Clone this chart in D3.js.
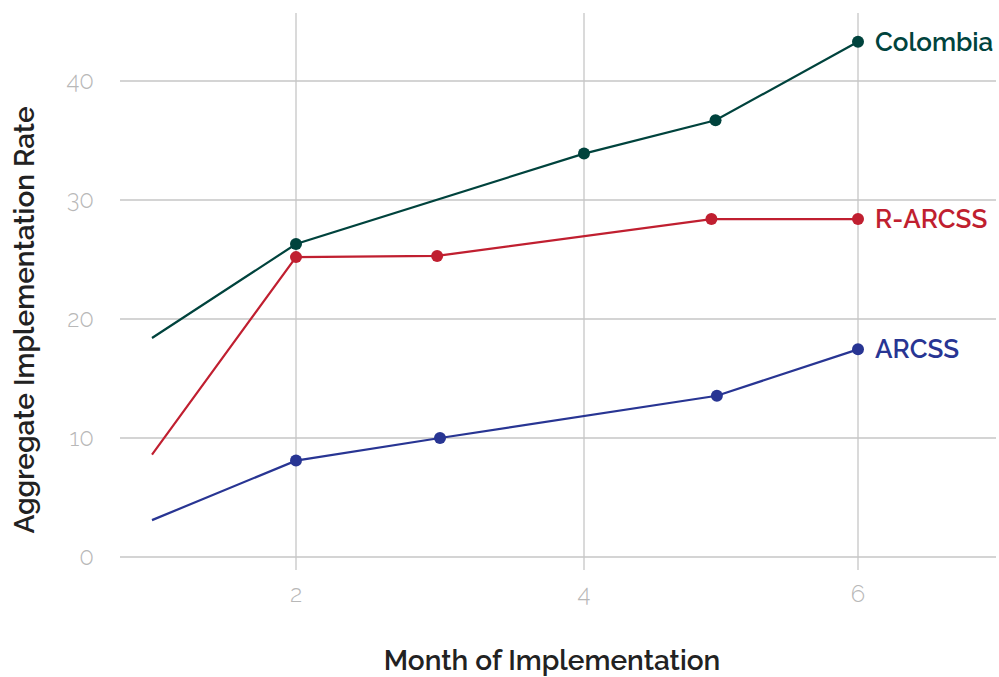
<!DOCTYPE html>
<html><head><meta charset="utf-8">
<script src="https://cdn.jsdelivr.net/npm/d3@7"></script>
<style>
html,body{margin:0;padding:0;background:#fff;}
svg{display:block;}
</style></head>
<body>
<svg id="chart" width="999" height="677"></svg>
<script>
// Data
const colombiaX = [1, 2, 4, 4.96, 6];
const colombiaY = [18.4, 26.3, 33.9, 36.7, 43.3];
const rarcssX = [1, 2, 2.98, 4.93, 6];
const rarcssY = [8.6, 25.2, 25.3, 28.4, 28.4];
const arcssX = [1, 2, 3, 4.97, 6];
const arcssY = [3.1, 8.1, 10.0, 13.55, 17.45];
const seriesNames = ["Colombia", "R-ARCSS", "ARCSS"];
const seriesColors = ["#00433d", "#c01f30", "#283593"];
const xTicks = [2, 4, 6];
const yTicks = [0, 10, 20, 30, 40];

const svg = d3.select("#chart");
const font = "Raleway, Lato, 'Open Sans', sans-serif";

const x = d3.scaleLinear().domain([2, 4, 6]).range([296, 584, 858]);
const y = d3.scaleLinear().domain([0, 40]).range([557, 81]);
const plotL = 120, plotR = 996, plotT = 13, plotB = 570;

// horizontal grid
svg.append("g").selectAll("line").data(yTicks).join("line")
  .attr("x1", plotL).attr("x2", plotR)
  .attr("y1", d => y(d)).attr("y2", d => y(d))
  .attr("stroke", "#c6c6c6").attr("stroke-width", 1.3);
// vertical grid
svg.append("g").selectAll("line").data(xTicks).join("line")
  .attr("x1", d => x(d)).attr("x2", d => x(d))
  .attr("y1", plotT).attr("y2", plotB)
  .attr("stroke", "#c6c6c6").attr("stroke-width", 1.3);

// y tick labels
svg.append("g").selectAll("text").data(yTicks).join("text")
  .attr("x", 94).attr("y", d => y(d)).attr("dy", "0.35em")
  .attr("text-anchor", "end")
  .attr("font-family", font).attr("font-weight", 300)
  .attr("font-size", 24).attr("fill", "#b8b8b8")
  .text(d => d);
// x tick labels
svg.append("g").selectAll("text").data(xTicks).join("text")
  .attr("x", d => x(d)).attr("y", 594).attr("dy", "0.35em")
  .attr("text-anchor", "middle")
  .attr("font-family", font).attr("font-weight", 300)
  .attr("font-size", 24).attr("fill", "#b8b8b8")
  .text(d => d);

// axis titles
svg.append("text")
  .attr("transform", "translate(34,320) rotate(-90)")
  .attr("text-anchor", "middle")
  .attr("font-family", font).attr("font-weight", 600)
  .attr("font-size", 28).attr("fill", "#222")
  .text("Aggregate Implementation Rate");
svg.append("text")
  .attr("x", 552).attr("y", 670)
  .attr("text-anchor", "middle")
  .attr("font-family", font).attr("font-weight", 600)
  .attr("font-size", 28).attr("fill", "#222")
  .text("Month of Implementation");

const series = [
  {name: seriesNames[0], xs: colombiaX, ys: colombiaY, color: seriesColors[0]},
  {name: seriesNames[1], xs: rarcssX, ys: rarcssY, color: seriesColors[1]},
  {name: seriesNames[2], xs: arcssX, ys: arcssY, color: seriesColors[2]}
];
const line = d3.line().x(d => x(d[0])).y(d => y(d[1]));

series.forEach(s => {
  const pts = s.xs.map((v, i) => [v, s.ys[i]]);
  svg.append("path").datum(pts)
    .attr("d", line).attr("fill", "none")
    .attr("stroke", s.color).attr("stroke-width", 2.2);
  svg.append("g").selectAll("circle").data(pts.slice(1)).join("circle")
    .attr("cx", d => x(d[0])).attr("cy", d => y(d[1])).attr("r", 6)
    .attr("fill", s.color);
  const last = pts[pts.length - 1];
  svg.append("text")
    .attr("x", x(last[0]) + 17).attr("y", y(last[1])).attr("dy", "0.35em")
    .attr("font-family", font).attr("font-weight", 600)
    .attr("font-size", 26).attr("fill", s.color)
    .text(s.name);
});
</script>
</body></html>
